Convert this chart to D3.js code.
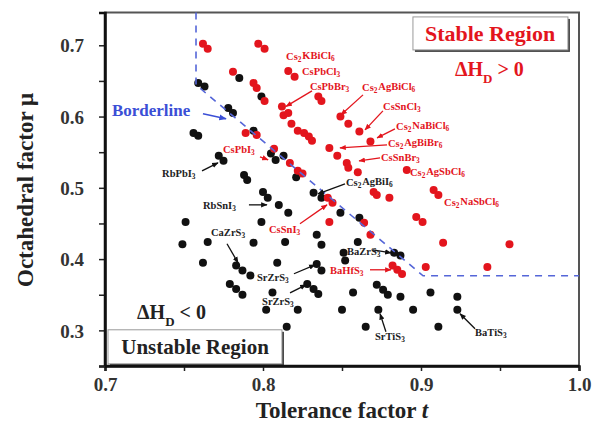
<!DOCTYPE html>
<html><head><meta charset="utf-8">
<script src="https://cdn.jsdelivr.net/npm/d3@7"></script>
<style>body{margin:0;background:#fff}</style></head>
<body>
<svg id="chart" width="592" height="435"></svg>
<script>
// ---- data (tolerance factor t, octahedral factor mu) ----
const stableT  = [0.762,0.765,0.797,0.801,0.781,0.816,0.820,0.794,0.796,0.801,0.812,0.813,0.816,0.818,0.822,0.826,0.829,0.831,0.835,0.837,0.849,0.854,0.861,0.868,0.842,0.847,0.853,0.854,0.860,0.891,0.789,0.796,0.807,0.817,0.822,0.825,0.841,0.844,0.842,0.864,0.868,0.870,0.872,0.880,0.908,0.911,0.897,0.901,0.914,0.956,0.942,0.903,0.882,0.885,0.888];
const stableMu = [0.702,0.695,0.702,0.695,0.663,0.664,0.656,0.647,0.640,0.622,0.614,0.602,0.605,0.590,0.580,0.577,0.572,0.566,0.628,0.622,0.600,0.590,0.579,0.565,0.556,0.545,0.535,0.528,0.522,0.525,0.577,0.574,0.555,0.535,0.524,0.520,0.486,0.479,0.452,0.451,0.434,0.494,0.490,0.486,0.497,0.490,0.459,0.452,0.423,0.421,0.389,0.389,0.391,0.385,0.379];
const unstableT  = [0.759,0.763,0.778,0.781,0.756,0.759,0.785,0.799,0.794,0.772,0.775,0.788,0.790,0.805,0.808,0.813,0.821,0.832,0.837,0.800,0.803,0.810,0.816,0.849,0.861,0.751,0.799,0.749,0.765,0.794,0.814,0.762,0.809,0.783,0.787,0.792,0.779,0.783,0.787,0.806,0.834,0.837,0.860,0.834,0.837,0.828,0.832,0.835,0.851,0.852,0.883,0.887,0.872,0.876,0.879,0.857,0.887,0.906,0.923,0.802,0.822,0.850,0.873,0.895,0.923,0.815,0.865,0.911];
const unstableMu = [0.647,0.642,0.612,0.605,0.577,0.573,0.654,0.628,0.580,0.545,0.538,0.518,0.511,0.548,0.539,0.545,0.515,0.493,0.486,0.494,0.486,0.476,0.465,0.465,0.458,0.452,0.452,0.421,0.424,0.423,0.424,0.395,0.395,0.391,0.384,0.377,0.365,0.358,0.350,0.353,0.434,0.420,0.424,0.393,0.384,0.365,0.358,0.351,0.409,0.398,0.409,0.405,0.364,0.357,0.350,0.353,0.347,0.353,0.347,0.329,0.329,0.329,0.329,0.329,0.329,0.305,0.305,0.305];
const borderT  = [0.7576,0.7576,0.9013,1.0];
const borderMu = [0.746,0.6445,0.3766,0.3766];
const xTickLabels = [0.7,0.8,0.9,1.0];
const yTickLabels = [0.3,0.4,0.5,0.6,0.7];

// compound labels: text, t, mu (baseline start), colour group
const labelText = ["Cs_2KBiCl_6","CsPbCl_3","CsPbBr_3","Cs_2AgBiCl_6","CsSnCl_3","Cs_2NaBiCl_6","Cs_2AgBiBr_6","CsSnBr_3","Cs_2AgSbCl_6","Cs_2NaSbCl_6","CsPbI_3","CsSnI_3","BaHfS_3",
                   "RbPbI_3","RbSnI_3","Cs_2AgBiI_6","CaZrS_3","SrZrS_3","SrZrS_3","BaZrS_3","SrTiS_3","BaTiS_3"];
const labelStable = [1,1,1,1,1,1,1,1,1,1,1,1,1,0,0,0,0,0,0,0,0,0];
const labelPos = [[0.8146,0.6795],[0.8247,0.6585],[0.8297,0.6374],[0.8627,0.6360],[0.8760,0.6094],[0.8842,0.5813],[0.8791,0.5575],[0.8747,0.5379],[0.8930,0.5168],[0.9146,0.4748],[0.7747,0.5491],[0.8038,0.4369],[0.8424,0.3794],
                  [0.7361,0.5154],[0.7620,0.4705],[0.8525,0.5028],[0.7671,0.4327],[0.7962,0.3696],[0.7994,0.3359],[0.8532,0.4060],[0.8709,0.2868],[0.9342,0.2924]];
const arrows = [ // [t1,mu1,t2,mu2,stable]
 [0.8310,0.6360,0.8146,0.6143,1],[0.8633,0.6304,0.8494,0.6024,1],[0.8759,0.6080,0.8646,0.5813,1],[0.8835,0.5828,0.8722,0.5701,1],
 [0.8785,0.5603,0.8487,0.5561,1],[0.8741,0.5421,0.8608,0.5379,1],[0.7981,0.5435,0.8032,0.5393,1],[0.8234,0.4495,0.8405,0.4761,1],[0.8677,0.3850,0.8810,0.3850,1],
 [0.7614,0.5238,0.7715,0.5351,0],[0.7911,0.4761,0.8025,0.4761,0],[0.8519,0.5056,0.8348,0.4916,0],[0.7772,0.4215,0.7842,0.3948,0],
 [0.8196,0.3794,0.8329,0.3920,0],[0.8171,0.3527,0.8272,0.3639,0],[0.8696,0.4130,0.8810,0.4088,0],[0.8778,0.2980,0.8741,0.3233,0],[0.9342,0.3022,0.9247,0.3233,0]
];

// ---- drawing ----
const svg = d3.select("#chart");
const L=105,R=579,T=12.5,B=366;
const x = d3.scaleLinear().domain([0.7,1.0]).range([L,R]);
const y = d3.scaleLinear().domain([0.25,0.746]).range([B,T]);
const serif = "'Liberation Serif','Times New Roman',serif";
const RED="#e3151d", BLK="#111", BLUE="#3b4fd6";

function rich(textSel, str){
  for(let i=0;i<str.length;i++){
    if(str[i]==='_'){ textSel.append("tspan").attr("font-size","70%").attr("dy","0.28em").text(str[i+1]);
      textSel.append("tspan").attr("dy","-0.28em").text("\u200A"); i++; }
    else { textSel.append("tspan").text(str[i]); }
  }
}

const defs = svg.append("defs");
[["ar",RED],["ab",BLK],["abl",BLUE]].forEach(([id,c])=>{
  defs.append("marker").attr("id",id).attr("viewBox","0 0 10 10").attr("refX",9).attr("refY",5)
   .attr("markerWidth",5).attr("markerHeight",5).attr("orient","auto")
   .append("path").attr("d","M0,1L10,5L0,9Z").attr("fill",c);
});

// frame
svg.append("rect").attr("x",L).attr("y",T).attr("width",R-L).attr("height",B-T)
  .attr("fill","none").attr("stroke","#555").attr("stroke-width",2);

// points
svg.append("g").selectAll("circle").data(d3.zip(unstableT,unstableMu)).join("circle")
  .attr("cx",d=>x(d[0])).attr("cy",d=>y(d[1])).attr("r",4).attr("fill",BLK);
svg.append("g").selectAll("circle").data(d3.zip(stableT,stableMu)).join("circle")
  .attr("cx",d=>x(d[0])).attr("cy",d=>y(d[1])).attr("r",4).attr("fill",RED);

// borderline
svg.append("path").datum(d3.zip(borderT,borderMu))
  .attr("d",d3.line().x(d=>x(d[0])).y(d=>y(d[1])))
  .attr("fill","none").attr("stroke","#5566d8").attr("stroke-width",1.6).attr("stroke-dasharray","7,6");

// axes
const xAxis = d3.axisBottom(x).tickValues(d3.range(0.7,1.001,0.05)).tickSize(5)
  .tickFormat(d=> xTickLabels.some(v=>Math.abs(v-d)<1e-6)? d3.format(".1f")(d):"");
const gx = svg.append("g").attr("transform",`translate(0,${B})`).call(xAxis);
const yAxis = d3.axisLeft(y).tickValues(d3.range(0.25,0.7501,0.05).filter(v=>v<=0.746)).tickSize(6)
  .tickFormat(d=> yTickLabels.some(v=>Math.abs(v-d)<1e-6)? d3.format(".1f")(d):"");
const gy = svg.append("g").attr("transform",`translate(${L},0)`).call(yAxis);
[gx,gy].forEach(g=>{
  g.select(".domain").attr("stroke","#111").attr("stroke-width",2.5);
  g.selectAll(".tick line").attr("stroke","#222").attr("stroke-width",1.5);
  g.selectAll(".tick text").attr("font-family",serif).attr("font-weight","bold").attr("font-size",19).attr("fill","#333");
});
gx.selectAll(".tick text").attr("y",25).attr("dy","0");
gy.selectAll(".tick text").attr("x",-21).attr("dy","0.35em");

// axis titles
const xt = svg.append("text").attr("x",342).attr("y",418).attr("text-anchor","middle")
  .attr("font-family",serif).attr("font-weight","bold").attr("font-size",23).attr("fill","#222");
xt.append("tspan").text("Tolerance factor ");
xt.append("tspan").attr("font-style","italic").text("t");
svg.append("text").attr("transform","translate(33,190) rotate(-90)").attr("text-anchor","middle")
  .attr("font-family",serif).attr("font-weight","bold").attr("font-size",23).attr("fill","#222")
  .text("Octahedral factor \u03bc");

// arrows
svg.append("g").selectAll("line").data(arrows).join("line")
  .attr("x1",d=>x(d[0])).attr("y1",d=>y(d[1])).attr("x2",d=>x(d[2])).attr("y2",d=>y(d[3]))
  .attr("stroke",d=>d[4]?RED:BLK).attr("stroke-width",1.3)
  .attr("marker-end",d=>d[4]?"url(#ar)":"url(#ab)");
svg.append("line").attr("x1",x(0.7620)).attr("y1",y(0.6038)).attr("x2",x(0.7766)).attr("y2",y(0.5968))
  .attr("stroke",BLUE).attr("stroke-width",1.5).attr("marker-end","url(#abl)");

// compound labels
labelText.forEach((s,i)=>{
  const t = svg.append("text").attr("x",x(labelPos[i][0])).attr("y",y(labelPos[i][1]))
    .attr("font-family",serif).attr("font-size",10.5).attr("font-weight","bold")
    .attr("fill",labelStable[i]?RED:"#222");
  rich(t,s);
});
svg.append("text").attr("x",x(0.7044)).attr("y",y(0.6009)).attr("font-family",serif)
  .attr("font-weight","bold").attr("font-size",17).attr("fill",BLUE).text("Borderline");

// region boxes
function box(t1,m1,t2,m2){
  svg.append("rect").attr("x",x(t1)+2).attr("y",y(m1)+2).attr("width",x(t2)-x(t1)).attr("height",y(m2)-y(m1)).attr("fill","#444");
  svg.append("rect").attr("x",x(t1)).attr("y",y(m1)).attr("width",x(t2)-x(t1)).attr("height",y(m2)-y(m1))
    .attr("fill","#fff").attr("stroke","#999").attr("stroke-width",1);
}
box(0.8949,0.7398,0.9930,0.6935);
svg.append("text").attr("x",x(0.9437)).attr("y",y(0.7066)).attr("text-anchor","middle")
  .attr("font-family",serif).attr("font-weight","bold").attr("font-size",22).attr("fill",RED).text("Stable Region");
box(0.7019,0.3008,0.8120,0.2530);
svg.append("text").attr("x",x(0.757)).attr("y",y(0.2662)).attr("text-anchor","middle")
  .attr("font-family",serif).attr("font-weight","bold").attr("font-size",21).attr("fill","#222").text("Unstable Region");
// redraw bottom/left axis line over box
svg.append("line").attr("x1",L).attr("x2",R).attr("y1",B).attr("y2",B).attr("stroke","#111").attr("stroke-width",2.5);
svg.append("line").attr("x1",L).attr("x2",L).attr("y1",T).attr("y2",B).attr("stroke","#111").attr("stroke-width",2.5);

function dh(tx,mu,sign,col){
  const t = svg.append("text").attr("x",x(tx)).attr("y",y(mu)).attr("font-family",serif)
    .attr("font-weight","bold").attr("font-size",20).attr("fill",col);
  t.append("tspan").text("\u0394H");
  t.append("tspan").attr("font-size",13).attr("dy",7).text("D");
  t.append("tspan").attr("dy",-7).text(" "+sign+" 0");
}
dh(0.9215,0.6571,">",RED);
dh(0.7203,0.3163,"<","#222");
</script>
</body></html>
